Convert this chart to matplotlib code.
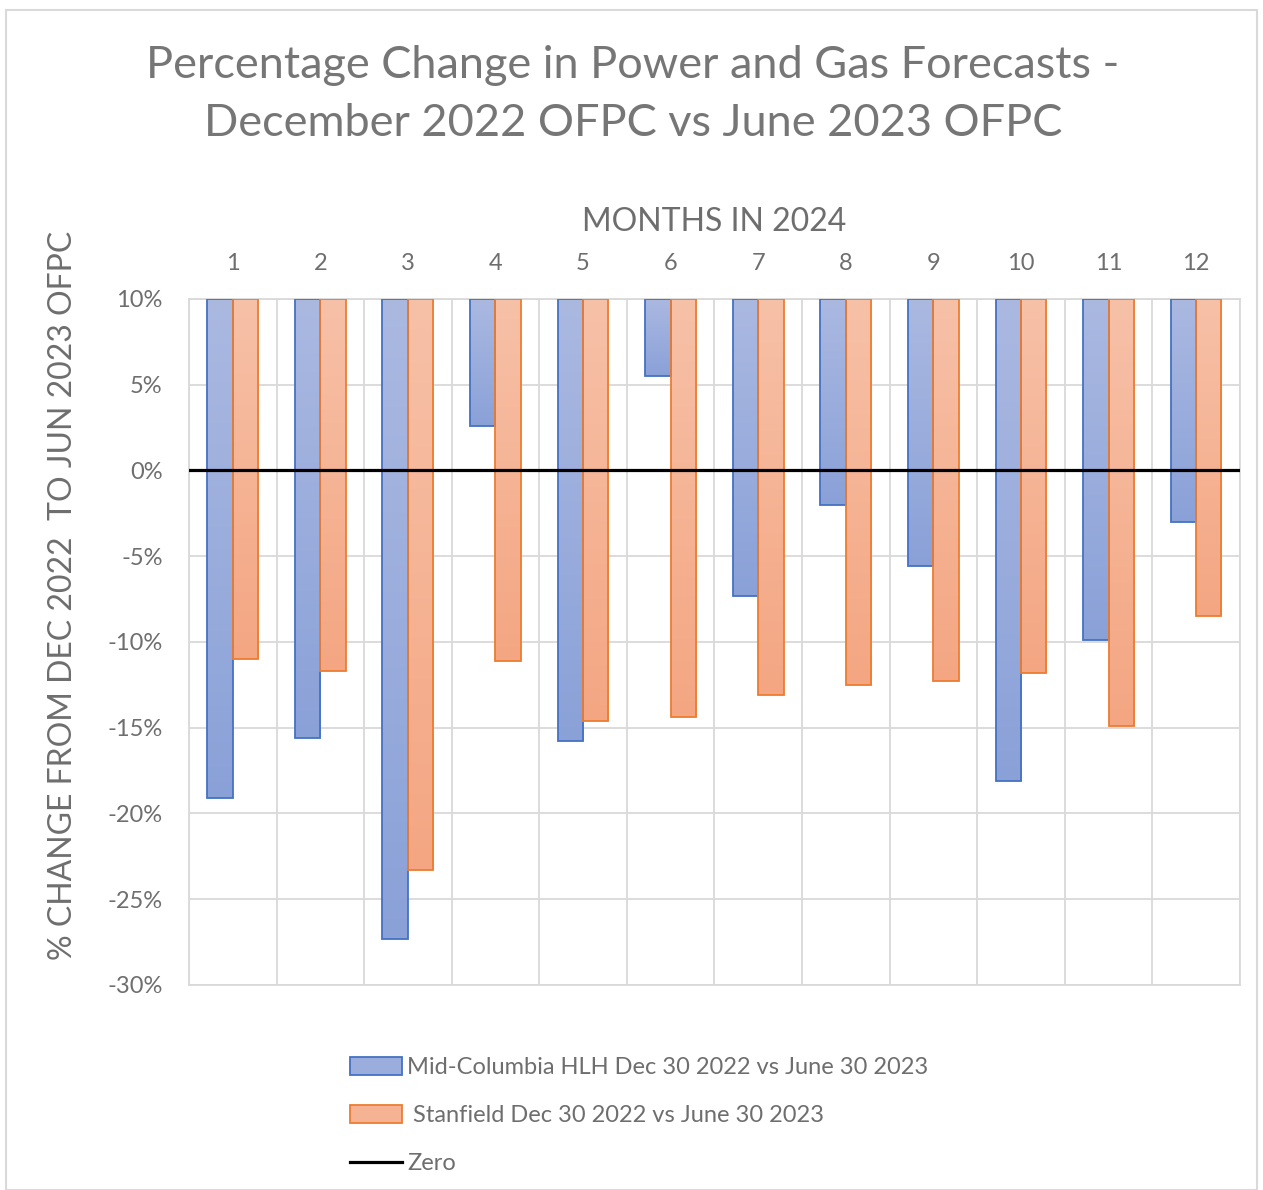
import numpy as np
import matplotlib
matplotlib.use('Agg')
import matplotlib.pyplot as plt
from matplotlib.patches import Rectangle
from matplotlib.lines import Line2D
from matplotlib.colors import LinearSegmentedColormap

plt.rcParams['font.family'] = ['Lato', 'DejaVu Sans']

# data
months = [1, 2, 3, 4, 5, 6, 7, 8, 9, 10, 11, 12]
midc = [-19.1, -15.6, -27.3, 2.6, -15.8, 5.5, -7.3, -2.0, -5.6, -18.1, -9.9, -3.0]
stanfield = [-11.0, -11.7, -23.3, -11.1, -14.6, -14.4, -13.1, -12.5, -12.3, -11.8, -14.9, -8.5]
zero = [0] * 12
y_ticks = [10, 5, 0, -5, -10, -15, -20, -25, -30]

label_midc = 'Mid-Columbia HLH Dec 30 2022 vs June 30 2023'
label_stan = ' Stanfield Dec 30 2022 vs June 30 2023'

gray_txt = '#6e6e6e'
grid_col = '#d9d9d9'
ymax, ymin = 10, -30

fig = plt.figure(figsize=(12.63, 11.9), dpi=100)
ax = fig.add_axes([0.1496, 0.1723, 0.8321, 0.5765])

x = np.arange(len(months))
w = 0.29

# bars hang from the top of the axis, filled with a vertical gradient
def gradient_bars(xs, vals, c_top, c_bot, edge):
    cmap = LinearSegmentedColormap.from_list('g', [c_bot, c_top])
    grad = np.linspace(0, 1, 256).reshape(-1, 1)
    bars = ax.bar(xs, [ymax - v for v in vals], bottom=vals, width=w,
                  facecolor='none', edgecolor=edge, linewidth=1.3, zorder=4)
    for b in bars:
        x0, y0 = b.get_x(), b.get_y()
        im = ax.imshow(grad, cmap=cmap, aspect='auto', origin='lower',
                       extent=[x0, x0 + b.get_width(), y0, y0 + b.get_height()],
                       zorder=3)
        im.set_clip_path(b)
    return bars

gradient_bars(x - w / 2, midc, '#abb9e1', '#8aa1d8', '#4472c4')
gradient_bars(x + w / 2, stanfield, '#f7c1a8', '#f4a682', '#ed7d31')

# zero line
ax.axhline(zero[0], color='black', linewidth=2.3, zorder=5)

ax.set_xlim(-0.5, len(months) - 0.5)
ax.set_ylim(ymin, ymax)

# grid
ax.set_yticks(y_ticks)
ax.set_yticklabels([f'{t}%' for t in y_ticks])
for t in y_ticks:
    ax.axhline(t, color=grid_col, linewidth=1.3, zorder=1)
for b in np.arange(-0.5, len(months), 1):
    ax.axvline(b, color=grid_col, linewidth=1.3, zorder=1)
for s in ax.spines.values():
    s.set_color(grid_col)
    s.set_linewidth(1.3)

ax.xaxis.tick_top()
ax.xaxis.set_label_position('top')
ax.set_xticks(x)
ax.set_xticklabels([str(m) for m in months])
ax.tick_params(axis='x', length=0, pad=18, labelsize=17, labelcolor=gray_txt)
ax.tick_params(axis='y', length=0, pad=19, labelsize=17, labelcolor=gray_txt)

ax.set_xlabel('MONTHS IN 2024', fontsize=23, color=gray_txt, labelpad=16)
ax.set_ylabel('% CHANGE FROM DEC 2022  TO JUN 2023 OFPC', fontsize=23, color=gray_txt)
ax.yaxis.set_label_coords(-0.106, 0.5685)

fig.text(0.501, 0.9205, 'Percentage Change in Power and Gas Forecasts -\nDecember 2022 OFPC vs June 2023 OFPC',
         ha='center', va='center', fontsize=32.5, color='#767676', linespacing=1.5)

handles = [Rectangle((0, 0), 1, 1, facecolor='#9aaddc', edgecolor='#4472c4', linewidth=1.3),
           Rectangle((0, 0), 1, 1, facecolor='#f5b394', edgecolor='#ed7d31', linewidth=1.3),
           Line2D([0], [0], color='black', linewidth=2.3)]
fig.legend(handles, [label_midc, label_stan, 'Zero'], loc='upper left',
           bbox_to_anchor=(0.268, 0.1215), frameon=False, fontsize=17,
           labelcolor=gray_txt, handlelength=2.2, handleheight=0.75,
           handletextpad=0.2, labelspacing=1.14, borderpad=0)

fig.add_artist(Rectangle((0.005, 0.0), 0.99, 0.9915, transform=fig.transFigure,
                         fill=False, edgecolor=grid_col, linewidth=1.5))

fig.savefig('out.png', dpi=100)
